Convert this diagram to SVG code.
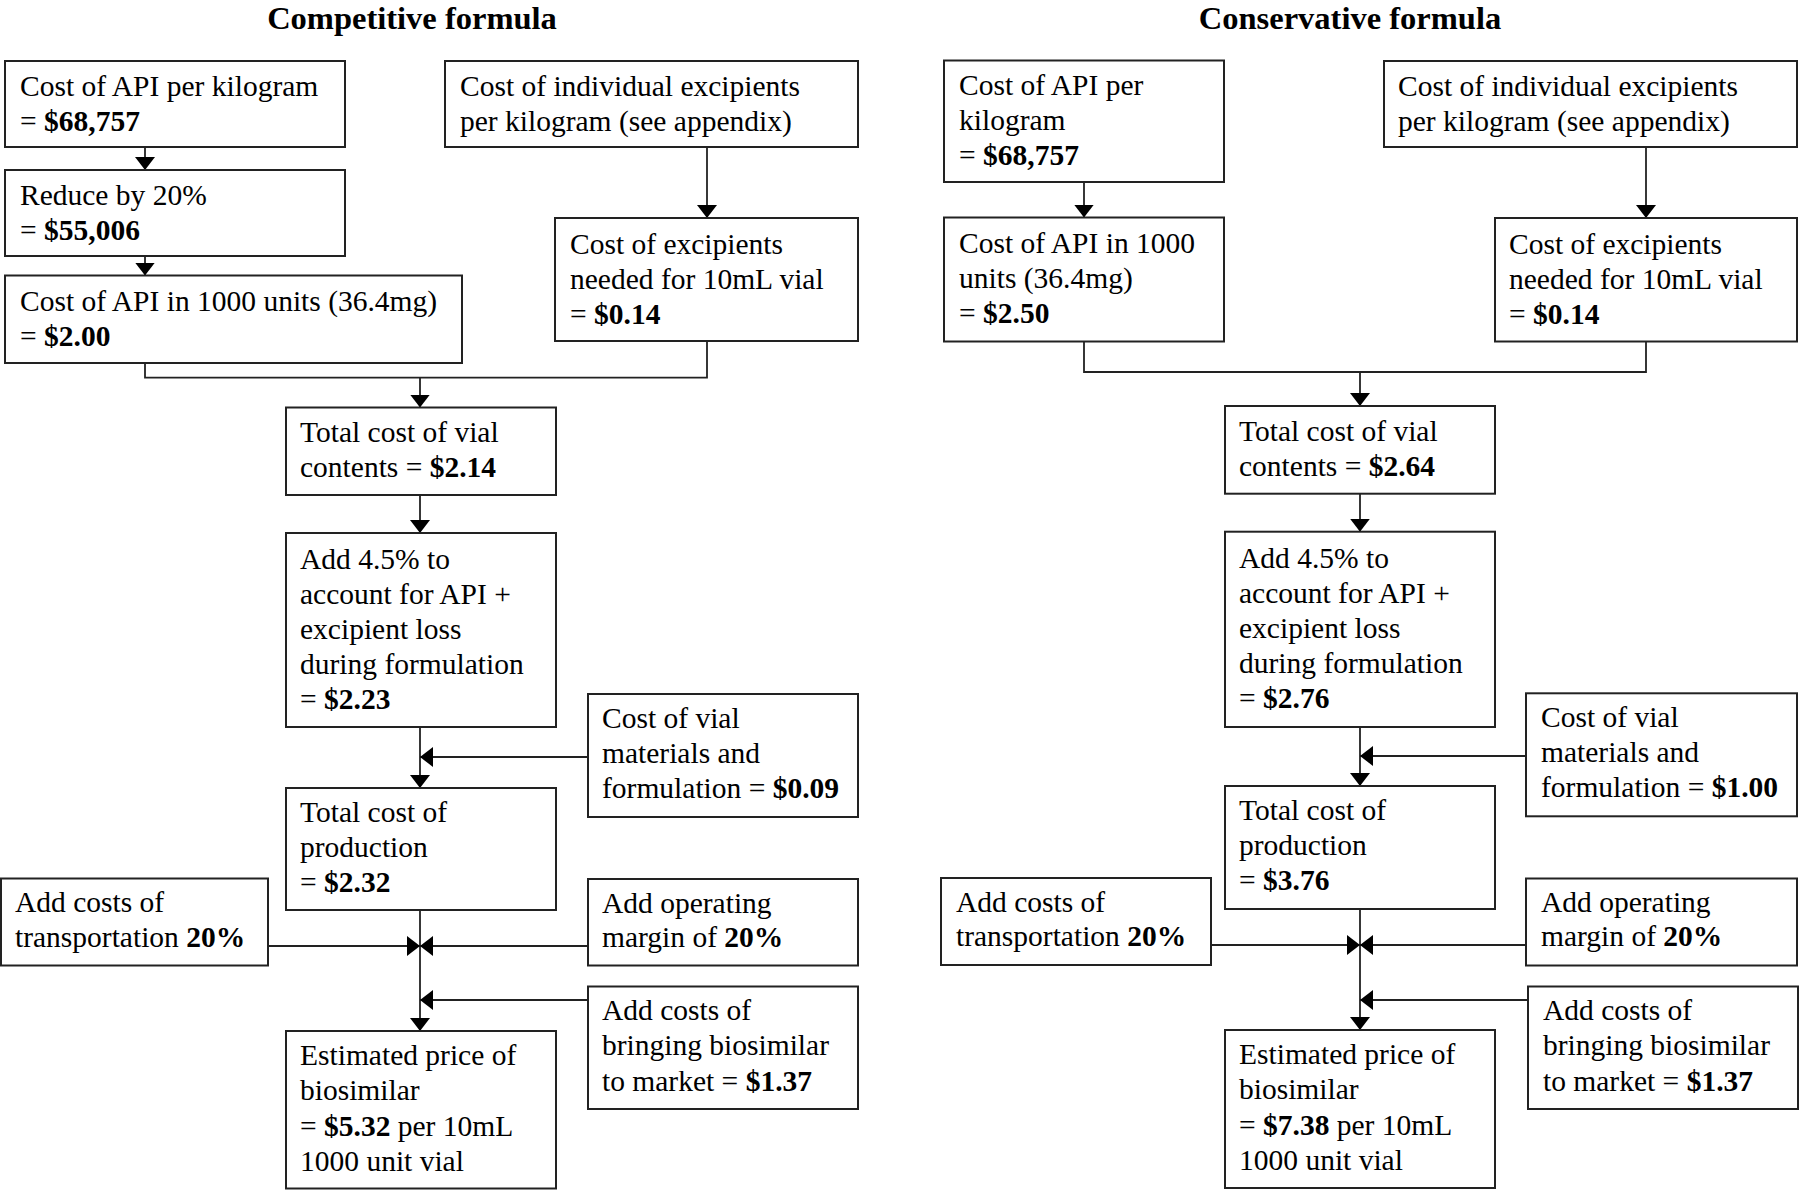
<svg xmlns="http://www.w3.org/2000/svg" width="1800" height="1190" viewBox="0 0 1800 1190">
<defs>
<style>
text{font-family:"Liberation Serif","Times New Roman",serif;font-size:29.5px;fill:#000}
.t{font-size:32.5px;font-weight:bold}
.b{font-weight:bold}
.box{fill:#fff;stroke:#222;stroke-width:2}
.c{fill:none;stroke:#222;stroke-width:1.8}
.a{marker-end:url(#ah)}
</style>
<marker id="ah" markerUnits="userSpaceOnUse" markerWidth="13" markerHeight="20" refX="13" refY="10" orient="auto" viewBox="0 0 13 20">
<path d="M0,0 L13,10 L0,20 z" fill="#000"/>
</marker>
</defs>
<rect width="1800" height="1190" fill="#fff"/>
<text class="t" x="412" y="29" text-anchor="middle">Competitive formula</text>
<text class="t" x="1350" y="29" text-anchor="middle">Conservative formula</text>

<g id="connectors">
<path class="c a" d="M145,147 V170"/>
<path class="c a" d="M145,256 V275.5"/>
<path class="c a" d="M707,147 V218"/>
<path class="c" d="M145,363 V377.7 H707 V341"/>
<path class="c a" d="M420,377.7 V407.5"/>
<path class="c a" d="M420,495 V533"/>
<path class="c a" d="M420,727 V788"/>
<path class="c a" d="M588,757 H420"/>
<path class="c a" d="M420,910 V1031"/>
<path class="c a" d="M268,946 H420"/>
<path class="c a" d="M588,946 H420"/>
<path class="c a" d="M588,1000 H420"/>

<path class="c a" d="M1084,182 V217.5"/>
<path class="c a" d="M1646,147 V218"/>
<path class="c" d="M1084,341.5 V372 H1646 V341.5"/>
<path class="c a" d="M1360,372 V406"/>
<path class="c a" d="M1360,493.7 V531.7"/>
<path class="c a" d="M1360,727 V786"/>
<path class="c a" d="M1526,756 H1360"/>
<path class="c a" d="M1360,909 V1030"/>
<path class="c a" d="M1211,945 H1360"/>
<path class="c a" d="M1526,945 H1360"/>
<path class="c a" d="M1528,1000 H1360"/>
</g>

<g id="l-api-kg">
<rect class="box" x="5" y="61" width="340" height="86"/>
<text x="20" y="96">Cost of API per kilogram</text>
<text x="20" y="131">= <tspan class="b">$68,757</tspan></text>
</g>
<g id="l-reduce">
<rect class="box" x="5" y="170" width="340" height="86"/>
<text x="20" y="205">Reduce by 20%</text>
<text x="20" y="240">= <tspan class="b">$55,006</tspan></text>
</g>
<g id="l-api-1000">
<rect class="box" x="5" y="275.5" width="457" height="87.5"/>
<text x="20" y="311">Cost of API in 1000 units (36.4mg)</text>
<text x="20" y="346">= <tspan class="b">$2.00</tspan></text>
</g>
<g id="l-exc-kg">
<rect class="box" x="445" y="61" width="413" height="86"/>
<text x="460" y="96">Cost of individual excipients</text>
<text x="460" y="131">per kilogram (see appendix)</text>
</g>
<g id="l-exc-vial">
<rect class="box" x="555" y="218" width="303" height="123"/>
<text x="570" y="254">Cost of excipients</text>
<text x="570" y="289">needed for 10mL vial</text>
<text x="570" y="324">= <tspan class="b">$0.14</tspan></text>
</g>
<g id="l-total-vial">
<rect class="box" x="286" y="407.5" width="270" height="87.5"/>
<text x="300" y="442">Total cost of vial</text>
<text x="300" y="477">contents = <tspan class="b">$2.14</tspan></text>
</g>
<g id="l-loss">
<rect class="box" x="286" y="533" width="270" height="194"/>
<text x="300" y="569">Add 4.5% to</text>
<text x="300" y="604">account for API +</text>
<text x="300" y="639">excipient loss</text>
<text x="300" y="674">during formulation</text>
<text x="300" y="709">= <tspan class="b">$2.23</tspan></text>
</g>
<g id="l-vial-mat">
<rect class="box" x="588" y="694" width="270" height="123"/>
<text x="602" y="728">Cost of vial</text>
<text x="602" y="763">materials and</text>
<text x="602" y="798">formulation = <tspan class="b">$0.09</tspan></text>
</g>
<g id="l-production">
<rect class="box" x="286" y="788" width="270" height="122"/>
<text x="300" y="822">Total cost of</text>
<text x="300" y="857">production</text>
<text x="300" y="892">= <tspan class="b">$2.32</tspan></text>
</g>
<g id="l-transport">
<rect class="box" x="1" y="878.5" width="267" height="87"/>
<text x="15" y="912">Add costs of</text>
<text x="15" y="947">transportation <tspan class="b">20%</tspan></text>
</g>
<g id="l-margin">
<rect class="box" x="588" y="879" width="270" height="86.5"/>
<text x="602" y="913">Add operating</text>
<text x="602" y="947">margin of <tspan class="b">20%</tspan></text>
</g>
<g id="l-market">
<rect class="box" x="588" y="986.5" width="270" height="122.5"/>
<text x="602" y="1020">Add costs of</text>
<text x="602" y="1055">bringing biosimilar</text>
<text x="602" y="1091">to market = <tspan class="b">$1.37</tspan></text>
</g>
<g id="l-price">
<rect class="box" x="286" y="1031" width="270" height="157.5"/>
<text x="300" y="1065">Estimated price of</text>
<text x="300" y="1100">biosimilar</text>
<text x="300" y="1136">= <tspan class="b">$5.32</tspan> per 10mL</text>
<text x="300" y="1171">1000 unit vial</text>
</g>

<g id="r-api-kg">
<rect class="box" x="944" y="60.5" width="280" height="121.5"/>
<text x="959" y="95">Cost of API per</text>
<text x="959" y="130">kilogram</text>
<text x="959" y="165">= <tspan class="b">$68,757</tspan></text>
</g>
<g id="r-exc-kg">
<rect class="box" x="1384" y="61" width="413" height="86"/>
<text x="1398" y="96">Cost of individual excipients</text>
<text x="1398" y="131">per kilogram (see appendix)</text>
</g>
<g id="r-api-1000">
<rect class="box" x="944" y="217.5" width="280" height="124"/>
<text x="959" y="253">Cost of API in 1000</text>
<text x="959" y="288">units (36.4mg)</text>
<text x="959" y="323">= <tspan class="b">$2.50</tspan></text>
</g>
<g id="r-exc-vial">
<rect class="box" x="1495" y="218" width="302" height="123.5"/>
<text x="1509" y="254">Cost of excipients</text>
<text x="1509" y="289">needed for 10mL vial</text>
<text x="1509" y="324">= <tspan class="b">$0.14</tspan></text>
</g>
<g id="r-total-vial">
<rect class="box" x="1225" y="406" width="270" height="87.7"/>
<text x="1239" y="441">Total cost of vial</text>
<text x="1239" y="476">contents = <tspan class="b">$2.64</tspan></text>
</g>
<g id="r-loss">
<rect class="box" x="1225" y="531.7" width="270" height="195.3"/>
<text x="1239" y="568">Add 4.5% to</text>
<text x="1239" y="603">account for API +</text>
<text x="1239" y="638">excipient loss</text>
<text x="1239" y="673">during formulation</text>
<text x="1239" y="708">= <tspan class="b">$2.76</tspan></text>
</g>
<g id="r-vial-mat">
<rect class="box" x="1526" y="693.3" width="271" height="123"/>
<text x="1541" y="727">Cost of vial</text>
<text x="1541" y="762">materials and</text>
<text x="1541" y="797">formulation = <tspan class="b">$1.00</tspan></text>
</g>
<g id="r-production">
<rect class="box" x="1225" y="786" width="270" height="123"/>
<text x="1239" y="820">Total cost of</text>
<text x="1239" y="855">production</text>
<text x="1239" y="890">= <tspan class="b">$3.76</tspan></text>
</g>
<g id="r-transport">
<rect class="box" x="941" y="878" width="270" height="87"/>
<text x="956" y="912">Add costs of</text>
<text x="956" y="946">transportation <tspan class="b">20%</tspan></text>
</g>
<g id="r-margin">
<rect class="box" x="1526" y="878.5" width="271" height="87"/>
<text x="1541" y="912">Add operating</text>
<text x="1541" y="946">margin of <tspan class="b">20%</tspan></text>
</g>
<g id="r-market">
<rect class="box" x="1528" y="986.5" width="270" height="122.5"/>
<text x="1543" y="1020">Add costs of</text>
<text x="1543" y="1055">bringing biosimilar</text>
<text x="1543" y="1091">to market = <tspan class="b">$1.37</tspan></text>
</g>
<g id="r-price">
<rect class="box" x="1225" y="1030" width="270" height="158"/>
<text x="1239" y="1064">Estimated price of</text>
<text x="1239" y="1099">biosimilar</text>
<text x="1239" y="1135">= <tspan class="b">$7.38</tspan> per 10mL</text>
<text x="1239" y="1170">1000 unit vial</text>
</g>
</svg>
